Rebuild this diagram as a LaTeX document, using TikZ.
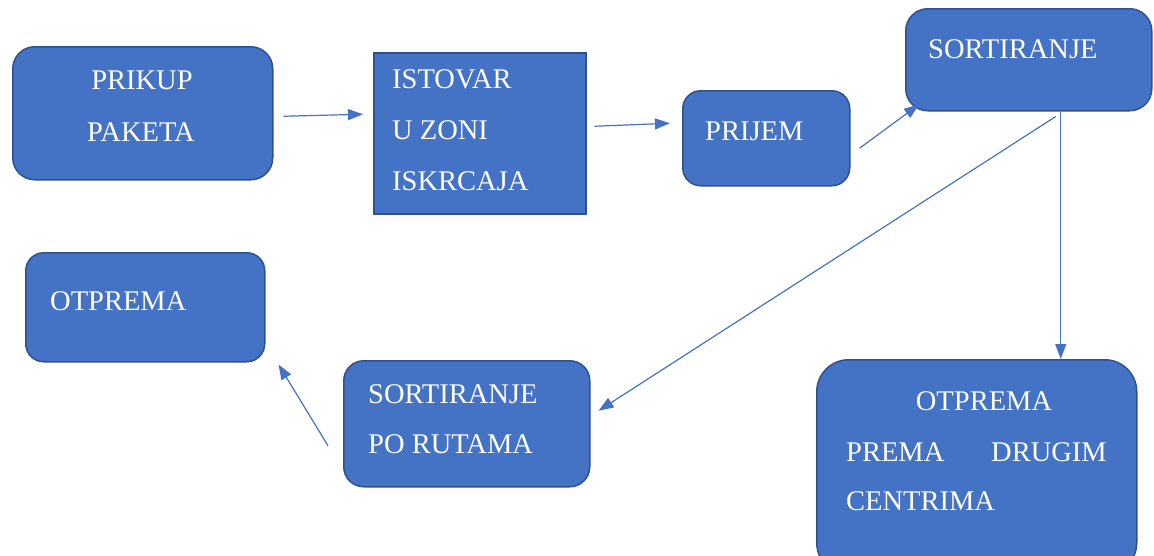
\documentclass[tikz,border=0pt]{standalone}
\usepackage{fontspec}
\setmainfont{Liberation Serif}
\usepackage{tikz}
\usetikzlibrary{arrows.meta}

\definecolor{boxblue}{HTML}{4472C4}
\definecolor{boxedge}{HTML}{2F528F}

\begin{document}
\begin{tikzpicture}[x=1pt,y=-1pt,
  box/.style={draw=boxedge,line width=1.5pt,fill=boxblue,rounded corners=22pt,anchor=north west,inner sep=0pt},
  sqbox/.style={box,rounded corners=0pt},
  txt/.style={text=white,inner sep=0pt,font=\fontsize{28.5}{34}\selectfont},
  arr/.style={draw=boxblue,line width=1.2pt,-{Triangle[length=15pt,width=11pt]}}]
\useasboundingbox (0,0) rectangle (1154,555);

% boxes
\node[box,minimum width=260pt,minimum height=133pt] (prikup) at (12,46) {};
\node[sqbox,minimum width=212pt,minimum height=161pt] (istovar) at (373,52) {};
\node[box,minimum width=167pt,minimum height=95pt,rounded corners=18pt] (prijem) at (682,90) {};
\node[box,minimum width=246pt,minimum height=102pt] (sortiranje) at (905,8) {};
\node[box,minimum width=239pt,minimum height=109pt,rounded corners=18pt] (otprema) at (25,252) {};
\node[box,minimum width=246pt,minimum height=126pt,rounded corners=20pt] (rutama) at (343,360) {};
\node[box,minimum width=320pt,minimum height=215pt,rounded corners=32pt] (centri) at (816,359) {};

% texts
\node[txt,anchor=base] (t1a) at (142,89) {PRIKUP};
\node[txt,anchor=base] (t1b) at (141,141) {PAKETA};
\node[txt,anchor=base west] (t2a) at (392,88) {ISTOVAR};
\node[txt,anchor=base west] (t2b) at (392,139) {U ZONI};
\node[txt,anchor=base west] (t2c) at (392,190) {ISKRCAJA};
\node[txt,anchor=base west] (t3) at (705,140) {PRIJEM};
\node[txt,anchor=base west] (t4) at (928,58) {SORTIRANJE};
\node[txt,anchor=base west] (t5) at (50,310) {OTPREMA};
\node[txt,anchor=base west] (t6a) at (368,403) {SORTIRANJE};
\node[txt,anchor=base west] (t6b) at (368,453) {PO RUTAMA};
\node[txt,anchor=base] (t7a) at (984,410) {OTPREMA};
\node[txt,anchor=base west] (t7b) at (846,461) {PREMA};
\node[txt,anchor=base east] (t7c) at (1107,461) {DRUGIM};
\node[txt,anchor=base west] (t7d) at (846,510) {CENTRIMA};

% arrows
\draw[arr] ([shift={(10,3)}]prikup.east) -- ([shift={(-10,-19)}]istovar.west);
\draw[arr] ([shift={(8,-7)}]istovar.east) -- ([shift={(-12,-15)}]prijem.west);
\draw[arr] ([shift={(9,10)}]prijem.east) -- ([shift={(14,-7)}]sortiranje.south west);
\draw[arr] ([shift={(27,5)}]sortiranje.south) -- ([shift={(8,-13)}]rutama.east);
\draw[arr] ([shift={(32,0)}]sortiranje.south) -- ([shift={(84,0)}]centri.north);
\draw[arr] ([shift={(-15,22)}]rutama.west) -- ([shift={(13,2)}]otprema.south east);
\end{tikzpicture}
\end{document}
